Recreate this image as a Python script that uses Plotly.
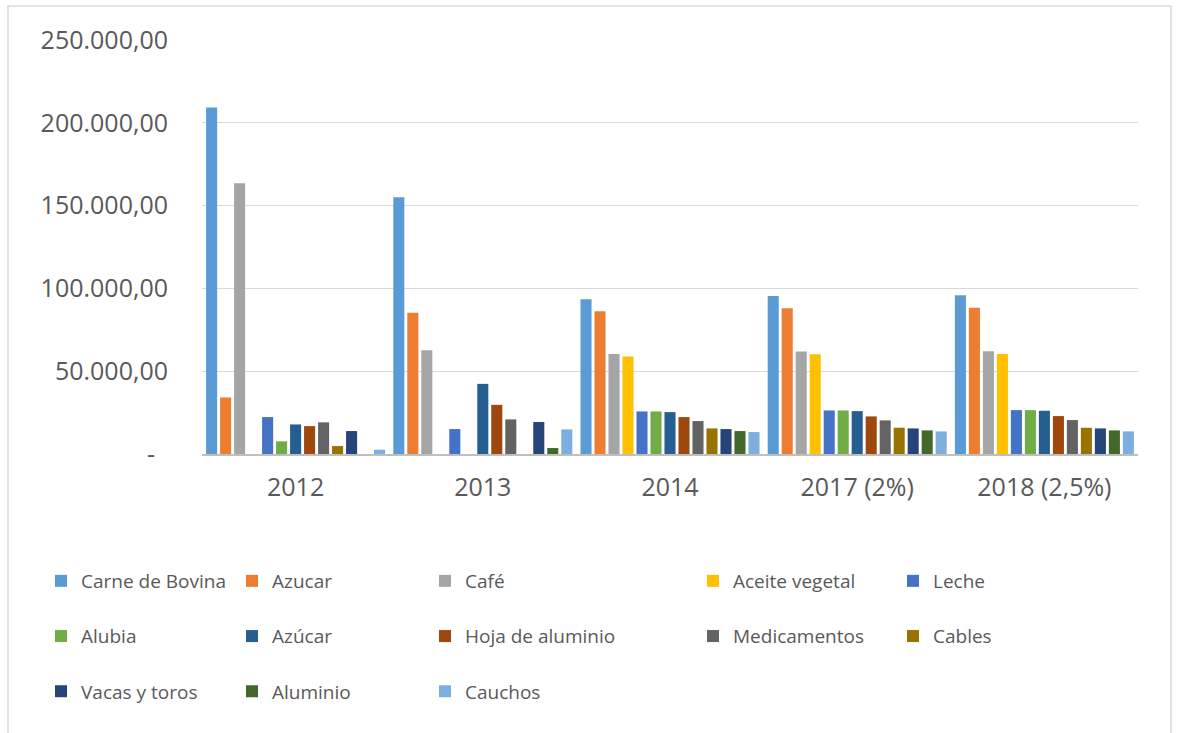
import plotly.graph_objects as go

# Categories (years, with growth rate for the projected ones)
years = ["2012", "2013", "2014", "2017 (2%)", "2018 (2,5%)"]

# Series values per year (None = no value reported)
carne_de_bovina = [209200, 155000, 93400, 95350, 95800]
azucar = [34150, 85350, 86150, 87950, 88350]
cafe = [163450, 62650, 60400, 61850, 62050]
aceite_vegetal = [None, None, 58850, 60250, 60400]
leche = [22300, 15050, 25700, 26300, 26500]
alubia = [7650, None, 25700, 26300, 26500]
azucar_2 = [17850, 42350, 25300, 25900, 26100]
hoja_de_aluminio = [16850, 29700, 22300, 22700, 22900]
medicamentos = [19100, 20900, 19900, 20300, 20500]
cables = [4800, None, 15450, 15850, 15850]
vacas_y_toros = [13850, 19300, 15050, 15450, 15450]
aluminio = [None, 3600, 13850, 14250, 14250]
cauchos = [2600, 14850, 13250, 13650, 13650]

series_names = ["Carne de Bovina", "Azucar", "Café", "Aceite vegetal", "Leche",
                "Alubia", "Azúcar", "Hoja de aluminio", "Medicamentos", "Cables",
                "Vacas y toros", "Aluminio", "Cauchos"]
series_values = [carne_de_bovina, azucar, cafe, aceite_vegetal, leche,
                 alubia, azucar_2, hoja_de_aluminio, medicamentos, cables,
                 vacas_y_toros, aluminio, cauchos]
series_colors = ["#5B9BD5", "#ED7D31", "#A5A5A5", "#FFC000", "#4472C4",
                 "#70AD47", "#255E91", "#9E480E", "#636363", "#997300",
                 "#264478", "#43682B", "#7CAFDD"]

# Value axis ticks
y_tickvals = [0, 50000, 100000, 150000, 200000, 250000]
y_ticktext = ["-\u00a0\u00a0", "50.000,00", "100.000,00", "150.000,00", "200.000,00", "250.000,00"]

FONT = "Open Sans"
TEXT_COLOR = "#595959"
W, H = 1177, 733

fig = go.Figure()
legend_ids = ["legend", "legend2", "legend3", "legend4", "legend5"]
for i, (name, vals, col) in enumerate(zip(series_names, series_values, series_colors)):
    fig.add_trace(go.Bar(
        x=years, y=vals, name=name,
        marker=dict(color=col, line=dict(width=0)),
        legend=legend_ids[i % 5],
        legendgroup=f"g{i}",
    ))

# Legend columns (left edge in pixels)
legend_cols = [41, 232, 425, 693, 893]
legend_top = 562
legend_common = dict(
    orientation="v",
    font=dict(family=FONT, size=19, color=TEXT_COLOR),
    bgcolor="rgba(0,0,0,0)",
    tracegroupgap=27.5,
    xref="container", yref="container",
    xanchor="left", yanchor="top",
    itemclick=False, itemdoubleclick=False,
)
legend_layout = {}
for lid, lx in zip(legend_ids, legend_cols):
    legend_layout[lid] = dict(legend_common, x=lx / W, y=1 - legend_top / H)

fig.update_layout(
    width=W, height=H,
    margin=dict(l=202, r=39, t=40, b=279, autoexpand=False),
    paper_bgcolor="white", plot_bgcolor="white",
    barmode="group", bargap=0.028, bargroupgap=0.21,
    showlegend=True,
    font=dict(family=FONT, color=TEXT_COLOR),
    xaxis=dict(
        showgrid=False, showline=True, linecolor="#BFBFBF", linewidth=1.5,
        tickfont=dict(family=FONT, size=25, color=TEXT_COLOR),
        ticks="", ticklabelstandoff=10, tickangle=0, automargin=False,
    ),
    yaxis=dict(
        range=[0, 250000], tickvals=y_tickvals, ticktext=y_ticktext,
        showgrid=True, gridcolor="#D9D9D9", gridwidth=1.3,
        zeroline=False, showline=False,
        tickfont=dict(family=FONT, size=25, color=TEXT_COLOR),
        ticks="", ticklabelstandoff=33, automargin=False,
    ),
    **legend_layout,
)

# Chart-area frame
fig.add_shape(type="rect", xref="paper", yref="paper",
              x0=(8 - 202) / 936, x1=(1171 - 202) / 936,
              y0=(454 - 740) / 414, y1=(454 - 6) / 414,
              line=dict(color="#D9D9D9", width=1.5), fillcolor="rgba(0,0,0,0)",
              layer="below")

fig.write_html("out.html")
